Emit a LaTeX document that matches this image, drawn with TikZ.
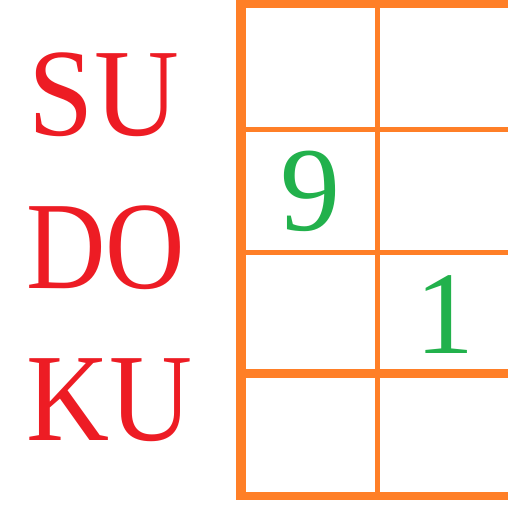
\documentclass[tikz,border=0pt]{standalone}
\usepackage{fontspec}
\setmainfont{Liberation Serif}
\definecolor{gridorange}{HTML}{FF7F27}
\definecolor{wordred}{HTML}{ED1C24}
\definecolor{numgreen}{HTML}{22B14C}
\begin{document}
\begin{tikzpicture}[x=1pt,y=-1pt,
  gridbar/.style={fill=gridorange,draw=none},
  word/.style={text=wordred,inner sep=0pt,anchor=base,font=\fontsize{125}{125}\selectfont},
  digit/.style={text=numgreen,inner sep=0pt,anchor=base,font=\fontsize{120}{120}\selectfont}]
\useasboundingbox (0,0) rectangle (508,517);
\fill[white] (0,0) rectangle (508,517);
% grid bars
\fill[gridbar] (236,0) rectangle (508,8);
\fill[gridbar] (236,0) rectangle (246,500);
\fill[gridbar] (375,0) rectangle (380,500);
\fill[gridbar] (236,127) rectangle (508,132);
\fill[gridbar] (236,250) rectangle (508,255);
\fill[gridbar] (236,369) rectangle (508,378);
\fill[gridbar] (236,492) rectangle (508,500);
% words
\node[word,xscale=0.94] (su) at (104,135) {SU};
\node[word,xscale=0.88] (do) at (106,288) {DO};
\node[word,xscale=0.92] (ku) at (110,440) {KU};
% digits
\node[digit] (nine) at (310,230) {9};
\node[digit,font=\fontsize{118}{118}\selectfont] (one) at (445,353) {1};
\end{tikzpicture}
\end{document}
